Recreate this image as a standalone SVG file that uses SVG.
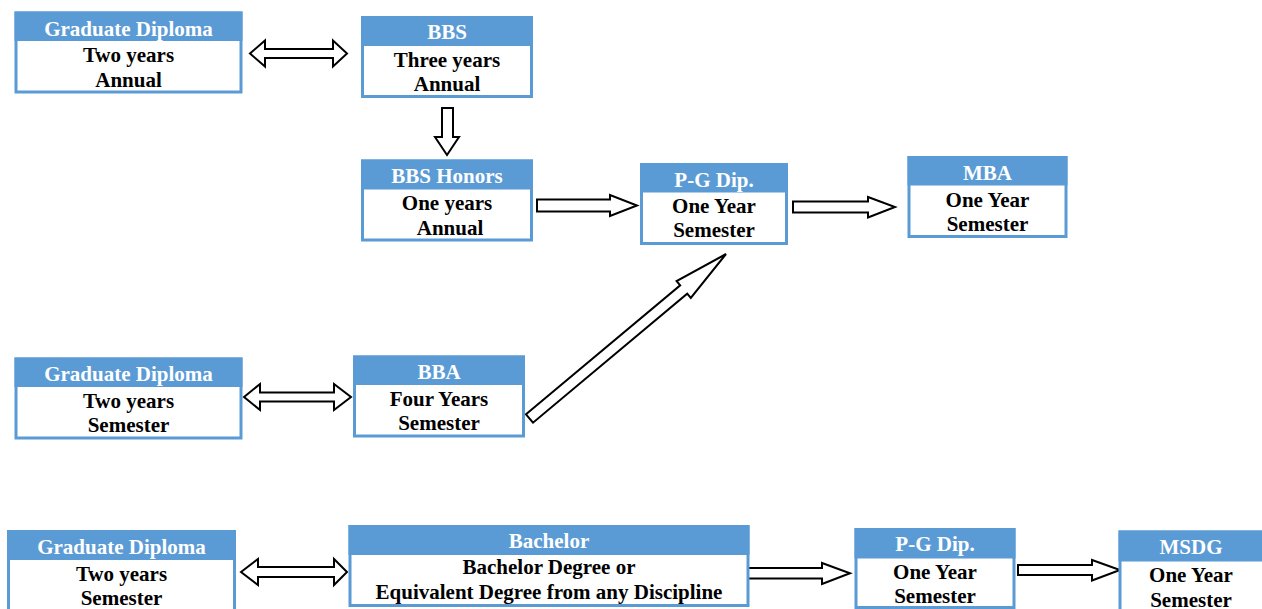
<svg xmlns="http://www.w3.org/2000/svg" width="1262" height="609" viewBox="0 0 1262 609">
<style>
.box{fill:#fff;stroke:#5B9BD5;stroke-width:3}
.hdr{fill:#5B9BD5}
.t{font-family:"Liberation Serif","Times New Roman",serif;font-weight:bold;font-size:21px;text-anchor:middle}
.ht{fill:#fff}
.bt{fill:#000}
.arr{fill:#fff;stroke:#000;stroke-width:2;stroke-linejoin:miter}
</style>
<rect width="1262" height="609" fill="#fff"/>
<g id="connectors">
<polygon class="arr" points="250,53.5 265,40.5 265,49 333,49 333,40.5 347,53.5 333,66.5 333,58 265,58 265,66.5"/>
<polygon class="arr" points="442,108 453,108 453,137 459,137 447,155 435,137 442,137"/>
<polygon class="arr" points="537,199.5 610,199.5 610,195 637,205.5 610,216 610,211.5 537,211.5"/>
<polygon class="arr" points="793,201.5 868,201.5 868,197 895,207 868,217.5 868,212.5 793,212.5"/>
<polygon class="arr" points="244,397 260,384 260,392.5 334,392.5 334,384 351,397 334,410 334,401.5 260,401.5 260,410"/>
<polygon class="arr" points="526,414.3 680.2,285.3 676.6,281.1 726,254 690.8,297.9 687.2,293.7 533,422.7"/>
<polygon class="arr" points="241,572 258,559 258,567 334,567 334,559 347,572 334,585 334,577 258,577 258,585"/>
<polygon class="arr" points="748,568 822,568 822,563 850,573.3 822,584 822,578.5 748,578.5"/>
<polygon class="arr" points="1018,565 1092,565 1092,560 1120,570 1092,580.5 1092,575 1018,575"/>
</g>
<g id="gd1">
<rect class="box" x="16" y="13" width="225" height="79"/>
<rect class="hdr" x="14.5" y="11.5" width="228" height="29.5"/>
<text class="t ht" x="128.5" y="35.5">Graduate Diploma</text>
<text class="t bt" x="128.5" y="61.5">Two years</text>
<text class="t bt" x="128.5" y="86.5">Annual</text>
</g>
<g id="bbs">
<rect class="box" x="362.5" y="17.5" width="169" height="79"/>
<rect class="hdr" x="361" y="16" width="172" height="30"/>
<text class="t ht" x="447" y="39">BBS</text>
<text class="t bt" x="447" y="67">Three years</text>
<text class="t bt" x="447" y="91">Annual</text>
</g>
<g id="bbshonors">
<rect class="box" x="362.5" y="161" width="169" height="79"/>
<rect class="hdr" x="361" y="159.5" width="172" height="30"/>
<text class="t ht" x="447" y="183">BBS Honors</text>
<text class="t bt" x="447" y="210">One years</text>
<text class="t bt" x="450" y="235">Annual</text>
</g>
<g id="pgdip1">
<rect class="box" x="641.5" y="164.5" width="145" height="79"/>
<rect class="hdr" x="640" y="163" width="148" height="29.5"/>
<text class="t ht" x="714" y="187">P-G Dip.</text>
<text class="t bt" x="714" y="213">One Year</text>
<text class="t bt" x="714" y="237">Semester</text>
</g>
<g id="mba">
<rect class="box" x="909" y="157.5" width="157" height="79"/>
<rect class="hdr" x="907.5" y="156" width="160" height="29.5"/>
<text class="t ht" x="987.5" y="179.5">MBA</text>
<text class="t bt" x="987.5" y="206.5">One Year</text>
<text class="t bt" x="987.5" y="231">Semester</text>
</g>
<g id="gd2">
<rect class="box" x="16" y="359" width="225" height="79"/>
<rect class="hdr" x="14.5" y="357.5" width="228" height="29.5"/>
<text class="t ht" x="128.5" y="381">Graduate Diploma</text>
<text class="t bt" x="128.5" y="408">Two years</text>
<text class="t bt" x="128.5" y="432">Semester</text>
</g>
<g id="bba">
<rect class="box" x="354.5" y="357" width="169" height="79"/>
<rect class="hdr" x="353" y="355.5" width="172" height="29.5"/>
<text class="t ht" x="439" y="379">BBA</text>
<text class="t bt" x="439" y="406">Four Years</text>
<text class="t bt" x="439" y="430">Semester</text>
</g>
<g id="gd3">
<rect class="box" x="8.5" y="531.5" width="226" height="82"/>
<rect class="hdr" x="7" y="530" width="229" height="30"/>
<text class="t ht" x="121.5" y="553.5">Graduate Diploma</text>
<text class="t bt" x="121.5" y="581">Two years</text>
<text class="t bt" x="121.5" y="605">Semester</text>
</g>
<g id="bachelor">
<rect class="box" x="350" y="526.5" width="398" height="79"/>
<rect class="hdr" x="348.5" y="525" width="401" height="30"/>
<text class="t ht" x="549" y="547.5">Bachelor</text>
<text class="t bt" x="549" y="573.5">Bachelor Degree or</text>
<text class="t bt" x="549" y="598.5">Equivalent Degree from any Discipline</text>
</g>
<g id="pgdip2">
<rect class="box" x="856" y="529.5" width="158" height="78"/>
<rect class="hdr" x="854.5" y="528" width="161" height="30.5"/>
<text class="t ht" x="935" y="551">P-G Dip.</text>
<text class="t bt" x="935" y="578.5">One Year</text>
<text class="t bt" x="935" y="603">Semester</text>
</g>
<g id="msdg">
<rect class="box" x="1120" y="532" width="145" height="82"/>
<rect class="hdr" x="1118.5" y="530.5" width="146" height="31"/>
<text class="t ht" x="1191" y="553.5">MSDG</text>
<text class="t bt" x="1191" y="582">One Year</text>
<text class="t bt" x="1191" y="606.5">Semester</text>
</g>
</svg>
